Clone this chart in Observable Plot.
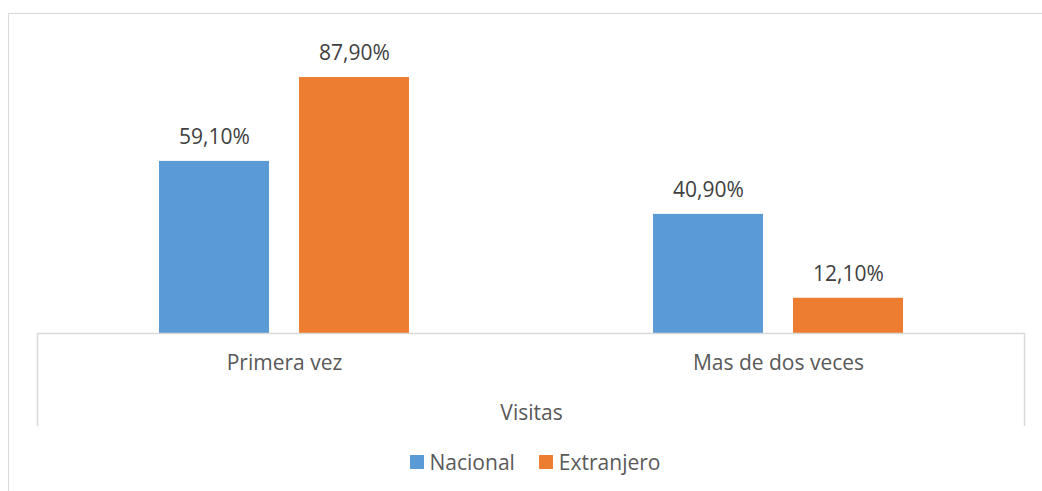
<!DOCTYPE html>
<html><head><meta charset="utf-8">
<script src="https://cdn.jsdelivr.net/npm/d3@7"></script>
<script src="https://cdn.jsdelivr.net/npm/@observablehq/plot@0.6"></script>
<style>
html,body{margin:0;padding:0;background:#fff;}
#wrap{position:relative;width:1042px;height:491px;overflow:hidden;font-family:"Open Sans",sans-serif;}
#border{position:absolute;left:8px;top:13px;width:1100px;height:600px;border:1px solid #d9d9d9;box-sizing:border-box;}
#chart{position:absolute;left:0;top:0;}
#legend{position:absolute;left:14px;top:448px;width:1042px;display:flex;justify-content:center;align-items:center;font-size:21px;color:#595959;}
.item{display:flex;align-items:center;margin:0 12px;}
.sw{width:14px;height:14px;margin-right:6px;}
</style></head>
<body>
<div id="wrap"><div id="border"></div><div id="chart"></div><div id="legend"></div></div>
<script>
const categorias = ["Primera vez", "Mas de dos veces"];
const series = ["Nacional", "Extranjero"];
const nacional = [59.1, 40.9];
const extranjero = [87.9, 12.1];
const colores = ["#5B9BD5", "#ED7D31"];
const ejeTitulo = "Visitas";

const data = categorias.flatMap((c, i) => [
  {cat: c, serie: series[0], value: nacional[i]},
  {cat: c, serie: series[1], value: extranjero[i]}
]);
const fmt = v => v.toFixed(2).replace(".", ",") + "%";

const chart = Plot.plot({
  width: 1042, height: 440,
  marginLeft: 37, marginRight: 17, marginTop: 41.8, marginBottom: 107,
  style: {fontFamily: "'Open Sans', sans-serif", fontSize: "21px", color: "#595959", background: "transparent", overflow: "visible"},
  fx: {domain: categorias, paddingInner: 0, paddingOuter: 0, label: ejeTitulo},
  x: {domain: series, paddingInner: 0.2143, paddingOuter: 0.8714, axis: null},
  y: {domain: [0, 100], axis: null},
  color: {domain: series, range: colores},
  marks: [
    Plot.barY(data, {fx: "cat", x: "serie", y: "value", fill: "serie"}),
    Plot.ruleY([0], {stroke: "#d9d9d9", strokeWidth: 1.5}),
    Plot.text(data, {fx: "cat", x: "serie", y: "value", text: d => fmt(d.value), dy: -24, fill: "#404040", fontSize: 21}),
    Plot.axisFx({anchor: "bottom", tickSize: 0, tickPadding: 22, label: ejeTitulo, labelAnchor: "center", labelOffset: 86, fontSize: 21, fill: "#595959"})
  ]
});
document.getElementById("chart").appendChild(chart);

// axis box side lines at the fx range edges
const fxr = chart.scale("fx").range;
const y0 = chart.scale("y").apply(0);
const svg = d3.select(chart);
[fxr[0] + 0.5, fxr[1] - 0.5].forEach(x => {
  svg.append("line").attr("x1", x).attr("x2", x).attr("y1", y0).attr("y2", y0 + 93)
    .attr("stroke", "#d9d9d9").attr("stroke-width", 1.5);
});

const color = chart.scale("color");
const leg = d3.select("#legend");
series.forEach(s => {
  const it = leg.append("div").attr("class", "item");
  it.append("div").attr("class", "sw").style("background", color.apply(s));
  it.append("span").text(s);
});
</script>
</body></html>
